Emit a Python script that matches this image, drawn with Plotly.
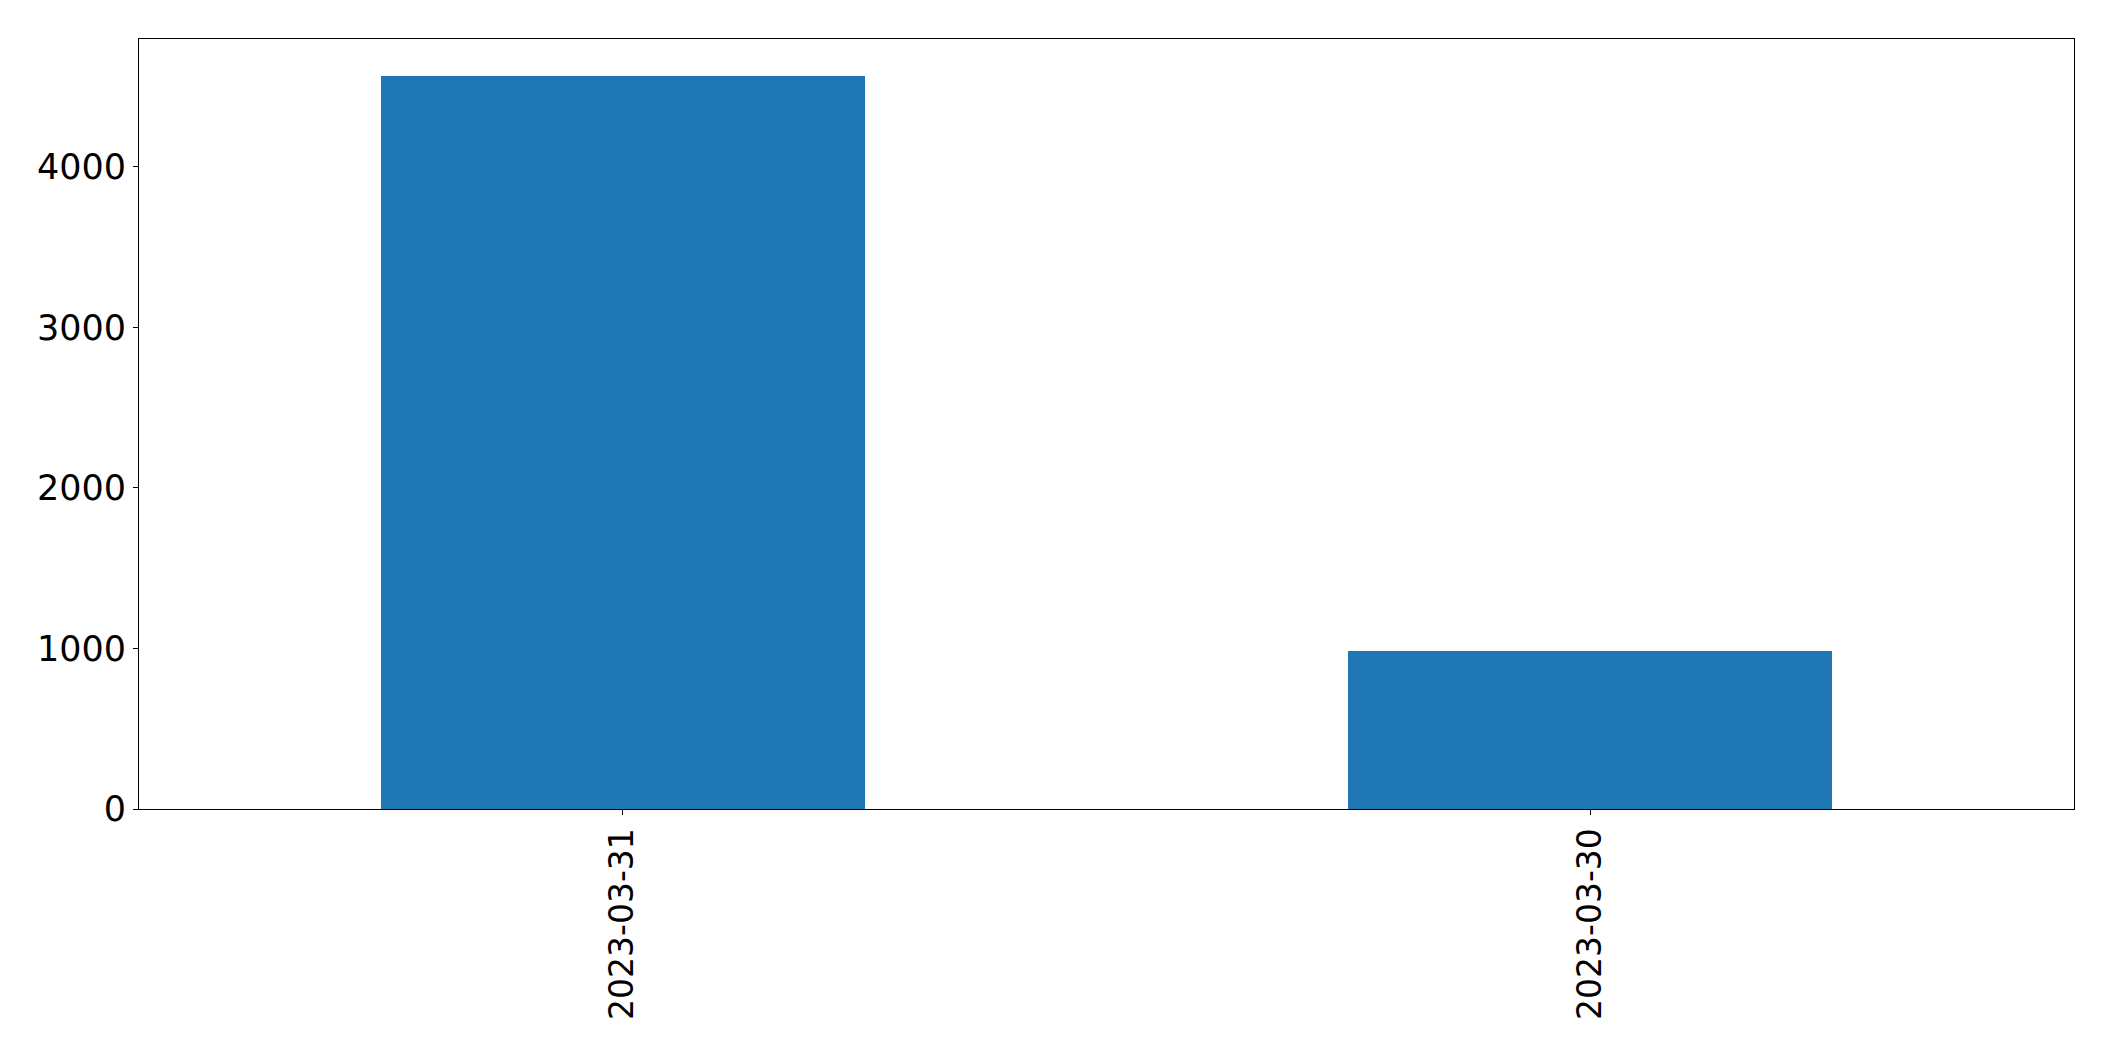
import plotly.graph_objects as go

categories = ["2023-03-31", "2023-03-30"]
values = [4568, 984]
y_ticks = [0, 1000, 2000, 3000, 4000]

fig = go.Figure(
    go.Bar(
        x=categories,
        y=values,
        width=0.5,
        marker=dict(color="#1f77b4", line=dict(width=0)),
    )
)

axis_common = dict(
    showline=True,
    linecolor="black",
    linewidth=1,
    mirror=True,
    ticks="outside",
    ticklen=5,
    tickwidth=1,
    tickcolor="black",
    showgrid=False,
    zeroline=False,
)

fig.update_xaxes(
    type="category",
    range=[-0.5, 1.5],
    tickangle=-90,
    tickfont=dict(family="DejaVu Sans", size=33, color="black"),
    **axis_common,
)
fig.update_yaxes(
    range=[0, max(values) * 1.05],
    tickmode="array",
    tickvals=y_ticks,
    ticktext=[str(t) for t in y_ticks],
    tickfont=dict(family="DejaVu Sans", size=35, color="black"),
    **axis_common,
)

fig.update_layout(
    width=2099,
    height=1045,
    margin=dict(l=131, r=33, t=31, b=244),
    paper_bgcolor="white",
    plot_bgcolor="white",
    showlegend=False,
    bargap=0,
)

fig.write_html("out.html")
